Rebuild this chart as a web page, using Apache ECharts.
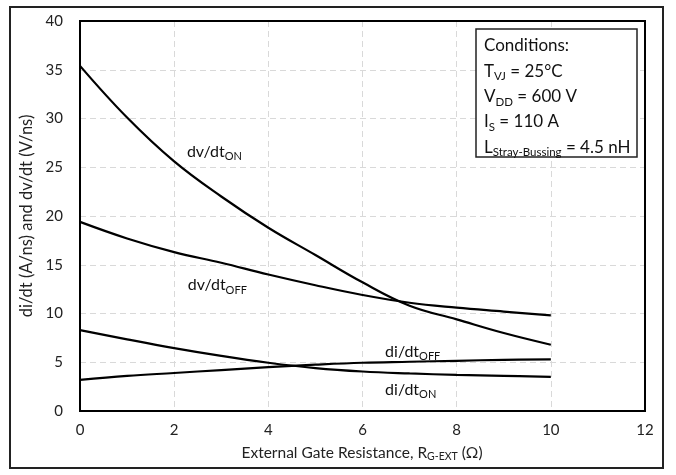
<!DOCTYPE html>
<html>
<head>
<meta charset="utf-8">
<script src="https://cdn.jsdelivr.net/npm/echarts@6/dist/echarts.min.js"></script>
<style>html,body{margin:0;padding:0;background:#fff}#c{width:676px;height:475px}</style>
</head>
<body>
<div id="c"></div>
<script>
// Data
var rg = [0, 1, 2, 3, 4, 5, 6, 7, 8, 9, 10];
var dvdtOn  = [35.4, 30.1, 25.6, 22.0, 18.8, 16.0, 13.2, 10.8, 9.4, 8.0, 6.8];
var dvdtOff = [19.4, 17.7, 16.3, 15.2, 14.0, 12.9, 11.9, 11.1, 10.6, 10.2, 9.8];
var didtOn  = [8.3, 7.35, 6.45, 5.65, 4.95, 4.4, 4.05, 3.85, 3.7, 3.6, 3.5];
var didtOff = [3.2, 3.6, 3.9, 4.2, 4.5, 4.75, 4.95, 5.05, 5.15, 5.25, 5.3];
var xTicks = [0, 2, 4, 6, 8, 10, 12];
var yTicks = [0, 5, 10, 15, 20, 25, 30, 35, 40];
// Curve label anchor points (data coords)
var labelDvOn  = [2.27, 26.6];
var labelDvOff = [2.29, 12.9];
var labelDiOff = [6.48, 6.1];
var labelDiOn  = [6.48, 2.2];

var FONT = 'Lato';
function pairs(xs, ys){ return xs.map(function(x,i){ return [x, ys[i]]; }); }
var curveRich = {
  m: {fontFamily: FONT, fontSize: 16, color: '#111', height: 20, lineHeight: 20, verticalAlign: 'bottom'},
  s: {fontFamily: FONT, fontSize: 11, color: '#111', height: 10, lineHeight: 10, verticalAlign: 'bottom'}
};
function mk(coord, main, sub){
  return {
    coord: coord, symbol: 'circle', symbolSize: 0,
    label: {show: true, position: 'right', distance: 0, formatter: '{m|' + main + '}{s|' + sub + '}', rich: curveRich}
  };
}
function curve(name, data, mark){
  var s = {
    name: name, type: 'line', data: pairs(rg, data), smooth: 0.4, showSymbol: false,
    lineStyle: {color: '#000', width: 2.2}, silent: true, z: 3
  };
  if (mark) s.markPoint = {silent: true, data: mark};
  return s;
}

var chart = echarts.init(document.getElementById('c'), null, {renderer: 'canvas'});
var condRich = {
  n: {fontFamily: FONT, fontSize: 17, color: '#111', height: 25.4, lineHeight: 25.4, verticalAlign: 'bottom'},
  s: {fontFamily: FONT, fontSize: 11.5, color: '#111', height: 14.5, lineHeight: 14.5, verticalAlign: 'bottom'}
};
var condText = [
  '{n|Conditions:}',
  '{n|T}{s|VJ}{n| = 25°C}',
  '{n|V}{s|DD}{n| = 600 V}',
  '{n|I}{s|S}{n| = 110 A}',
  '{n|L}{s|Stray-Bussing}{n| = 4.5 nH}'
].join('\n');
var xNameRich = {
  n: {fontFamily: FONT, fontSize: 15.5, color: '#222', verticalAlign: 'bottom', height: 19, lineHeight: 19},
  m: {fontFamily: FONT, fontSize: 10.5, color: '#222', verticalAlign: 'bottom', height: 10, lineHeight: 10}
};

chart.setOption({
  animation: false,
  backgroundColor: '#fff',
  grid: {left: 80, top: 21, right: 31, bottom: 64, show: true, borderColor: '#000', borderWidth: 2, backgroundColor: 'transparent', z: 4},
  xAxis: {
    type: 'value', min: xTicks[0], max: xTicks[xTicks.length-1], interval: 2,
    axisLine: {show: false}, axisTick: {show: false},
    splitLine: {show: true, lineStyle: {color: '#d9d9d9', type: [6, 4], width: 1}},
    axisLabel: {fontFamily: FONT, fontSize: 15, color: '#222', margin: 12}
  },
  yAxis: {
    type: 'value', min: yTicks[0], max: yTicks[yTicks.length-1], interval: 5,
    axisLine: {show: false}, axisTick: {show: false},
    splitLine: {show: true, lineStyle: {color: '#d9d9d9', type: [6, 4], width: 1}},
    axisLabel: {fontFamily: FONT, fontSize: 15, color: '#222', margin: 17},
    name: 'di/dt (A/ns) and dv/dt (V/ns)', nameLocation: 'middle', nameGap: 38, nameRotate: 90,
    nameTextStyle: {fontFamily: FONT, fontSize: 16.5, color: '#222'}
  },
  series: [
    curve('dv/dtON', dvdtOn, [mk(labelDvOn, 'dv/dt', 'ON')]),
    curve('dv/dtOFF', dvdtOff, [mk(labelDvOff, 'dv/dt', 'OFF')]),
    curve('di/dtON', didtOn, [mk(labelDiOn, 'di/dt', 'ON')]),
    curve('di/dtOFF', didtOff, [mk(labelDiOff, 'di/dt', 'OFF')])
  ],
  graphic: [
    {type: 'rect', shape: {x: 10, y: 7, width: 653, height: 461}, style: {fill: 'none', stroke: '#222', lineWidth: 2}, silent: true, z: 0},
    {type: 'rect', shape: {x: 476, y: 29, width: 161, height: 128}, style: {fill: '#fff', stroke: '#222', lineWidth: 1.5}, silent: true, z: 10},
    {type: 'text', x: 484, y: 33, style: {text: condText, rich: condRich, fill: '#111'}, silent: true, z: 11},
    {type: 'text', x: 362, y: 443, style: {text: '{n|External Gate Resistance, R}{m|G-EXT}{n| (Ω)}', rich: xNameRich, fill: '#222', align: 'center', verticalAlign: 'top'}, silent: true, z: 11}
  ]
});
</script>
</body>
</html>
